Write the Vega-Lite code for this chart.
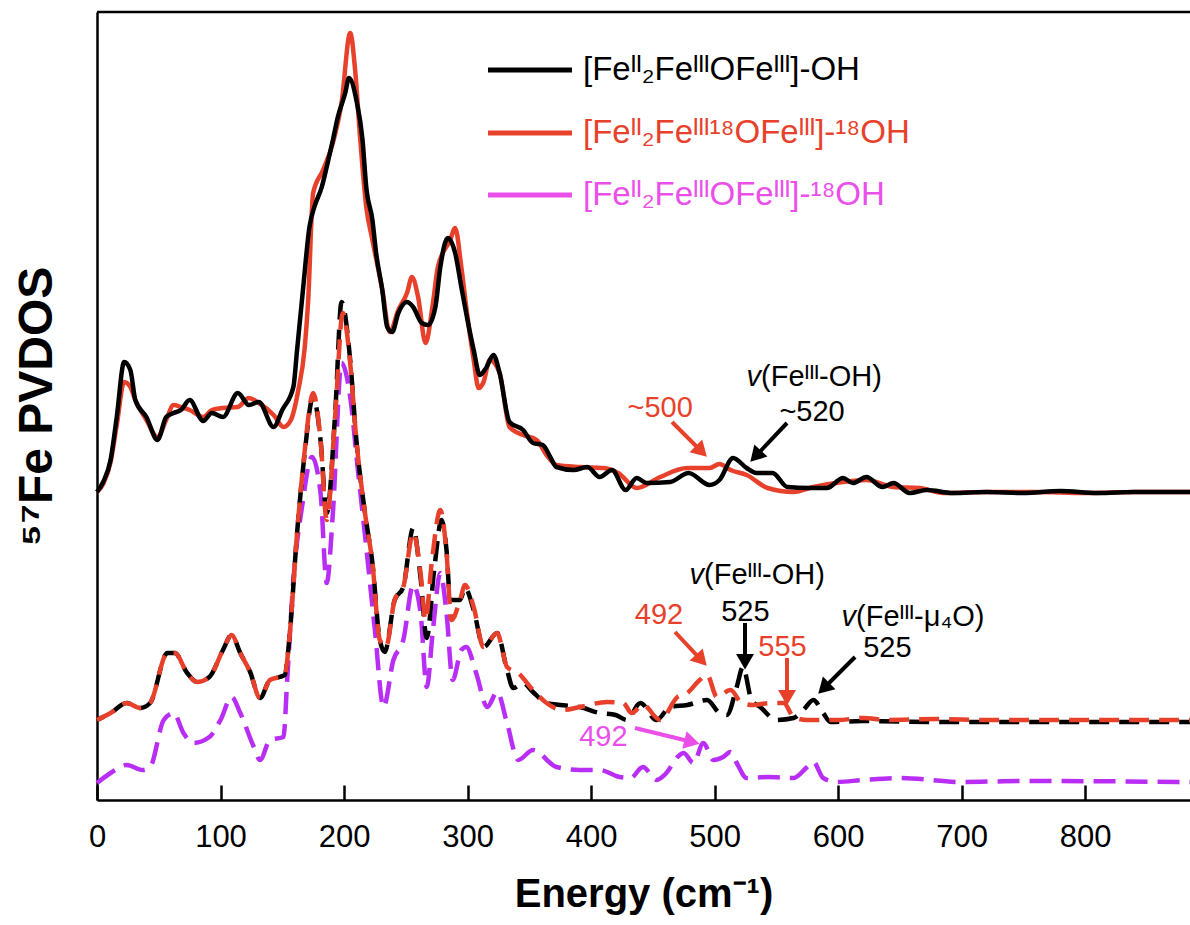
{
  "$schema": "https://vega.github.io/schema/vega-lite/v6.json",
  "width": 1093,
  "height": 788,
  "autosize": "none",
  "padding": {"left": 97, "top": 12, "right": 0, "bottom": 125},
  "background": "white",
  "config": {
    "view": {"stroke": null},
    "font": "Liberation Sans",
    "axis": {"grid": false}
  },
  "datasets": {
    "exp_oh": [
      {"e":0,"v":308},{"e":5,"v":318},{"e":11,"v":340},{"e":16,"v":383},{"e":22,"v":438},{"e":27,"v":430},{"e":31,"v":400},{"e":40,"v":383},{"e":49,"v":360},{"e":56,"v":383},{"e":62,"v":387},{"e":68,"v":390},{"e":75,"v":400},{"e":86,"v":379},{"e":93,"v":387},{"e":102,"v":383},{"e":114,"v":407},{"e":123,"v":395},{"e":131,"v":398},{"e":143,"v":373},{"e":150,"v":390},{"e":159,"v":413},{"e":162,"v":450},{"e":167,"v":513},{"e":172,"v":573},{"e":176,"v":593},{"e":182,"v":613},{"e":186,"v":633},{"e":191,"v":660},{"e":195,"v":683},{"e":201,"v":707},{"e":204,"v":722},{"e":210,"v":700},{"e":215,"v":660},{"e":218,"v":613},{"e":223,"v":580},{"e":226,"v":547},{"e":231,"v":510},{"e":235,"v":473},{"e":239,"v":468},{"e":244,"v":487},{"e":251,"v":498},{"e":256,"v":493},{"e":263,"v":477},{"e":268,"v":475},{"e":274,"v":493},{"e":278,"v":533},{"e":284,"v":562},{"e":290,"v":547},{"e":295,"v":513},{"e":300,"v":480},{"e":305,"v":450},{"e":310,"v":425},{"e":315,"v":432},{"e":321,"v":445},{"e":326,"v":427},{"e":334,"v":378},{"e":345,"v":370},{"e":353,"v":357},{"e":361,"v":355},{"e":367,"v":343},{"e":372,"v":333},{"e":386,"v":330},{"e":397,"v":333},{"e":407,"v":323},{"e":417,"v":330},{"e":428,"v":310},{"e":437,"v":322},{"e":445,"v":317},{"e":464,"v":318},{"e":479,"v":327},{"e":496,"v":315},{"e":504,"v":320},{"e":515,"v":342},{"e":526,"v":332},{"e":534,"v":327},{"e":547,"v":327},{"e":559,"v":313},{"e":577,"v":312},{"e":591,"v":312},{"e":604,"v":322},{"e":612,"v":317},{"e":623,"v":323},{"e":636,"v":313},{"e":645,"v":317},{"e":658,"v":307},{"e":672,"v":310},{"e":693,"v":307},{"e":720,"v":308},{"e":750,"v":307},{"e":780,"v":309},{"e":810,"v":307},{"e":840,"v":308},{"e":885,"v":308}
    ],
    "exp_18o": [
      {"e":0,"v":308},{"e":5,"v":316},{"e":11,"v":338},{"e":16,"v":375},{"e":22,"v":418},{"e":27,"v":413},{"e":31,"v":400},{"e":40,"v":380},{"e":49,"v":363},{"e":56,"v":380},{"e":62,"v":395},{"e":68,"v":393},{"e":75,"v":390},{"e":86,"v":383},{"e":93,"v":390},{"e":102,"v":392},{"e":114,"v":393},{"e":123,"v":402},{"e":131,"v":397},{"e":143,"v":385},{"e":151,"v":373},{"e":157,"v":380},{"e":163,"v":410},{"e":168,"v":450},{"e":171,"v":500},{"e":175,"v":607},{"e":183,"v":630},{"e":191,"v":657},{"e":198,"v":697},{"e":205,"v":767},{"e":209,"v":730},{"e":213,"v":663},{"e":218,"v":593},{"e":223,"v":560},{"e":231,"v":510},{"e":237,"v":468},{"e":244,"v":490},{"e":251,"v":507},{"e":255,"v":523},{"e":260,"v":503},{"e":266,"v":457},{"e":272,"v":497},{"e":276,"v":533},{"e":286,"v":560},{"e":290,"v":572},{"e":295,"v":533},{"e":300,"v":483},{"e":305,"v":440},{"e":309,"v":412},{"e":313,"v":418},{"e":318,"v":440},{"e":326,"v":427},{"e":334,"v":373},{"e":345,"v":365},{"e":356,"v":360},{"e":364,"v":345},{"e":372,"v":335},{"e":391,"v":333},{"e":410,"v":332},{"e":422,"v":327},{"e":437,"v":312},{"e":456,"v":323},{"e":478,"v":332},{"e":496,"v":332},{"e":504,"v":336},{"e":513,"v":330},{"e":526,"v":325},{"e":543,"v":312},{"e":564,"v":308},{"e":580,"v":313},{"e":604,"v":318},{"e":623,"v":320},{"e":645,"v":313},{"e":666,"v":312},{"e":685,"v":307},{"e":720,"v":308},{"e":760,"v":308},{"e":800,"v":307},{"e":840,"v":308},{"e":885,"v":308}
    ],
    "calc_18o": [
      {"e":0,"v":80},{"e":11,"v":87},{"e":24,"v":97},{"e":35,"v":92},{"e":43,"v":97},{"e":57,"v":147},{"e":63,"v":147},{"e":73,"v":127},{"e":81,"v":118},{"e":91,"v":123},{"e":102,"v":150},{"e":109,"v":165},{"e":116,"v":147},{"e":124,"v":128},{"e":132,"v":102},{"e":140,"v":120},{"e":148,"v":123},{"e":152,"v":125},{"e":156,"v":165},{"e":162,"v":267},{"e":168,"v":347},{"e":175,"v":407},{"e":181,"v":360},{"e":186,"v":280},{"e":193,"v":387},{"e":199,"v":487},{"e":205,"v":437},{"e":210,"v":360},{"e":217,"v":287},{"e":223,"v":237},{"e":229,"v":160},{"e":234,"v":153},{"e":241,"v":200},{"e":248,"v":213},{"e":256,"v":267},{"e":262,"v":227},{"e":266,"v":180},{"e":271,"v":237},{"e":278,"v":290},{"e":283,"v":247},{"e":287,"v":180},{"e":294,"v":200},{"e":298,"v":215},{"e":305,"v":193},{"e":313,"v":153},{"e":324,"v":167},{"e":332,"v":133},{"e":341,"v":127},{"e":353,"v":110},{"e":364,"v":97},{"e":377,"v":90},{"e":391,"v":93},{"e":413,"v":98},{"e":426,"v":97},{"e":433,"v":87},{"e":442,"v":95},{"e":456,"v":80},{"e":470,"v":103},{"e":478,"v":107},{"e":488,"v":120},{"e":494,"v":125},{"e":502,"v":103},{"e":513,"v":110},{"e":522,"v":97},{"e":531,"v":95},{"e":545,"v":97},{"e":556,"v":97},{"e":564,"v":83},{"e":575,"v":80},{"e":600,"v":80},{"e":620,"v":82},{"e":640,"v":80},{"e":680,"v":81},{"e":720,"v":80},{"e":885,"v":80}
    ],
    "calc_oh": [
      {"e":0,"v":80},{"e":11,"v":87},{"e":24,"v":97},{"e":35,"v":92},{"e":43,"v":97},{"e":57,"v":147},{"e":63,"v":147},{"e":73,"v":127},{"e":81,"v":118},{"e":91,"v":123},{"e":102,"v":150},{"e":109,"v":165},{"e":116,"v":147},{"e":124,"v":128},{"e":132,"v":102},{"e":140,"v":120},{"e":148,"v":123},{"e":152,"v":125},{"e":156,"v":165},{"e":162,"v":267},{"e":168,"v":345},{"e":175,"v":403},{"e":181,"v":360},{"e":186,"v":287},{"e":193,"v":390},{"e":198,"v":498},{"e":205,"v":440},{"e":210,"v":360},{"e":217,"v":287},{"e":223,"v":237},{"e":229,"v":160},{"e":233,"v":148},{"e":241,"v":200},{"e":248,"v":213},{"e":256,"v":272},{"e":262,"v":222},{"e":267,"v":162},{"e":273,"v":230},{"e":279,"v":280},{"e":283,"v":250},{"e":286,"v":200},{"e":290,"v":200},{"e":294,"v":200},{"e":298,"v":212},{"e":305,"v":190},{"e":313,"v":153},{"e":324,"v":167},{"e":332,"v":130},{"e":337,"v":112},{"e":345,"v":117},{"e":353,"v":108},{"e":364,"v":97},{"e":375,"v":95},{"e":391,"v":93},{"e":407,"v":87},{"e":420,"v":85},{"e":429,"v":80},{"e":440,"v":97},{"e":453,"v":80},{"e":464,"v":93},{"e":478,"v":95},{"e":494,"v":100},{"e":504,"v":87},{"e":510,"v":85},{"e":518,"v":113},{"e":523,"v":133},{"e":530,"v":100},{"e":537,"v":93},{"e":550,"v":80},{"e":564,"v":82},{"e":572,"v":90},{"e":580,"v":100},{"e":588,"v":87},{"e":594,"v":78},{"e":620,"v":79},{"e":680,"v":78},{"e":720,"v":78},{"e":885,"v":78}
    ],
    "calc_oh18": [
      {"e":0,"v":17},{"e":11,"v":27},{"e":24,"v":35},{"e":37,"v":30},{"e":43,"v":33},{"e":54,"v":80},{"e":62,"v":87},{"e":70,"v":67},{"e":78,"v":57},{"e":91,"v":63},{"e":100,"v":80},{"e":109,"v":103},{"e":116,"v":87},{"e":127,"v":53},{"e":132,"v":40},{"e":140,"v":60},{"e":151,"v":63},{"e":154,"v":120},{"e":159,"v":220},{"e":166,"v":293},{"e":174,"v":343},{"e":181,"v":307},{"e":186,"v":217},{"e":191,"v":287},{"e":198,"v":437},{"e":205,"v":403},{"e":211,"v":333},{"e":218,"v":253},{"e":225,"v":170},{"e":232,"v":93},{"e":240,"v":140},{"e":248,"v":160},{"e":256,"v":215},{"e":262,"v":187},{"e":267,"v":113},{"e":272,"v":170},{"e":278,"v":227},{"e":283,"v":187},{"e":288,"v":120},{"e":295,"v":150},{"e":299,"v":153},{"e":307,"v":127},{"e":316,"v":93},{"e":324,"v":108},{"e":332,"v":77},{"e":341,"v":40},{"e":353,"v":50},{"e":372,"v":33},{"e":391,"v":30},{"e":407,"v":30},{"e":423,"v":23},{"e":432,"v":22},{"e":442,"v":33},{"e":453,"v":20},{"e":461,"v":27},{"e":470,"v":43},{"e":475,"v":47},{"e":483,"v":37},{"e":491,"v":57},{"e":499,"v":40},{"e":507,"v":43},{"e":513,"v":48},{"e":518,"v":37},{"e":526,"v":22},{"e":543,"v":23},{"e":564,"v":22},{"e":575,"v":33},{"e":580,"v":38},{"e":588,"v":22},{"e":599,"v":18},{"e":620,"v":20},{"e":650,"v":22},{"e":700,"v":18},{"e":750,"v":19},{"e":885,"v":18}
    ],
    "legend": [
      {"e":316.6,"e2":384.6,"v":730,"grp":"OH","t":"[Feᴵᴵ₂FeᴵᴵᴵOFeᴵᴵᴵ]-OH"},
      {"e":316.6,"e2":384.6,"v":667,"grp":"18O","t":"[Feᴵᴵ₂Feᴵᴵᴵ¹⁸OFeᴵᴵᴵ]-¹⁸OH"},
      {"e":316.6,"e2":384.6,"v":605,"grp":"OH18","t":"[Feᴵᴵ₂FeᴵᴵᴵOFeᴵᴵᴵ]-¹⁸OH"}
    ],
    "arrows": [
      {"e":465.6,"v":378,"e2":487.9,"v2":350.5,"ang":135,"grp":"18O"},
      {"e":558.7,"v":377,"e2":534.7,"v2":345.7,"ang":223,"grp":"OH"},
      {"e":524.7,"v":177,"e2":524.7,"v2":140.8,"ang":180,"grp":"OH"},
      {"e":468,"v":168,"e2":488,"v2":141.7,"ang":137,"grp":"18O"},
      {"e":558.7,"v":142,"e2":558.7,"v2":104.8,"ang":180,"grp":"18O"},
      {"e":613.8,"v":143,"e2":589.9,"v2":113.5,"ang":225,"grp":"OH"},
      {"e":435.6,"v":72,"e2":479.7,"v2":58.8,"ang":104,"grp":"OH18"}
    ],
    "labels": [
      {"e":456,"v":392,"t":"~500","grp":"18O","kind":"center"},
      {"e":579,"v":388,"t":"~520","grp":"OH","kind":"center"},
      {"e":537.7,"v":423,"t":"v","grp":"OH","kind":"vi"},
      {"e":537.7,"v":423,"t":"(Feᴵᴵᴵ-OH)","grp":"OH","kind":"rest"},
      {"e":491.5,"v":225,"t":"v","grp":"OH","kind":"vi"},
      {"e":491.5,"v":225,"t":"(Feᴵᴵᴵ-OH)","grp":"OH","kind":"rest"},
      {"e":525,"v":188,"t":"525","grp":"OH","kind":"center"},
      {"e":455,"v":185,"t":"492","grp":"18O","kind":"center"},
      {"e":555,"v":153,"t":"555","grp":"18O","kind":"center"},
      {"e":614.6,"v":183,"t":"v","grp":"OH","kind":"vi"},
      {"e":614.6,"v":183,"t":"(Feᴵᴵᴵ-μ₄O)","grp":"OH","kind":"rest"},
      {"e":640,"v":152,"t":"525","grp":"OH","kind":"center"},
      {"e":410,"v":63,"t":"492","grp":"OH18","kind":"center"}
    ],
    "border": [{"v":788}]
  },
  "layer": [
    {
      "data": {"name": "calc_oh18"},
      "mark": {"type": "line", "color": "#b92ef5", "strokeWidth": 4.5, "strokeDash": [22, 10], "interpolate": "monotone"},
      "encoding": {
        "x": {"field": "e", "type": "quantitative", "scale": {"domain": [0, 885], "nice": false, "zero": false},
          "axis": {"title": "Energy (cm⁻¹)", "values": [0,100,200,300,400,500,600,700,800], "tickSize": -15, "tickWidth": 2.5, "tickColor": "black", "domainColor": "black", "domainWidth": 2.5, "labelFontSize": 31, "labelColor": "black", "labelPadding": 37, "labelFont": "Liberation Sans", "titleFont": "Liberation Sans", "titleFontWeight": "bold", "titleFontSize": 40, "titleColor": "black", "titlePadding": 22, "grid": false, "labelFlush": false}},
        "y": {"field": "v", "type": "quantitative", "scale": {"domain": [0, 788], "nice": false, "zero": false},
          "axis": {"title": "⁵⁷Fe PVDOS", "ticks": false, "labels": false, "domainColor": "black", "domainWidth": 2.5, "titleFont": "Liberation Sans", "titleFontSize": 48, "titleFontWeight": "bold", "titleColor": "black", "titlePadding": 36, "grid": false}}
      }
    },
    {
      "data": {"name": "calc_oh"},
      "mark": {"type": "line", "color": "black", "strokeWidth": 4.5, "strokeDash": [20, 10], "strokeDashOffset": 12, "interpolate": "monotone"},
      "encoding": {
        "x": {"field": "e", "type": "quantitative", "scale": {"domain": [0, 885], "nice": false, "zero": false}},
        "y": {"field": "v", "type": "quantitative", "scale": {"domain": [0, 788], "nice": false, "zero": false}}
      }
    },
    {
      "data": {"name": "calc_18o"},
      "mark": {"type": "line", "color": "#e8412b", "strokeWidth": 4.5, "strokeDash": [20, 10], "interpolate": "monotone"},
      "encoding": {
        "x": {"field": "e", "type": "quantitative", "scale": {"domain": [0, 885], "nice": false, "zero": false}},
        "y": {"field": "v", "type": "quantitative", "scale": {"domain": [0, 788], "nice": false, "zero": false}}
      }
    },
    {
      "data": {"name": "exp_18o"},
      "mark": {"type": "line", "color": "#e8412b", "strokeWidth": 4.5, "interpolate": "monotone"},
      "encoding": {
        "x": {"field": "e", "type": "quantitative", "scale": {"domain": [0, 885], "nice": false, "zero": false}},
        "y": {"field": "v", "type": "quantitative", "scale": {"domain": [0, 788], "nice": false, "zero": false}}
      }
    },
    {
      "data": {"name": "exp_oh"},
      "mark": {"type": "line", "color": "black", "strokeWidth": 4.5, "interpolate": "monotone"},
      "encoding": {
        "x": {"field": "e", "type": "quantitative", "scale": {"domain": [0, 885], "nice": false, "zero": false}},
        "y": {"field": "v", "type": "quantitative", "scale": {"domain": [0, 788], "nice": false, "zero": false}}
      }
    },
    {
      "data": {"name": "border"},
      "mark": {"type": "rule", "color": "black", "strokeWidth": 2.5},
      "encoding": {
        "y": {"field": "v", "type": "quantitative", "scale": {"domain": [0, 788], "nice": false, "zero": false}}
      }
    },
    {
      "data": {"name": "legend"},
      "mark": {"type": "rule", "strokeWidth": 5},
      "encoding": {
        "x": {"field": "e", "type": "quantitative", "scale": {"domain": [0, 885], "nice": false, "zero": false}},
        "x2": {"field": "e2"},
        "y": {"field": "v", "type": "quantitative", "scale": {"domain": [0, 788], "nice": false, "zero": false}},
        "color": {"field": "grp", "type": "nominal", "scale": {"domain": ["OH", "18O", "OH18"], "range": ["#000000", "#e8412b", "#ea4fea"]}, "legend": null}
      }
    },
    {
      "data": {"name": "legend"},
      "mark": {"type": "text", "align": "left", "baseline": "middle", "fontSize": 33, "font": "Liberation Sans", "dx": 11},
      "encoding": {
        "x": {"field": "e2", "type": "quantitative", "scale": {"domain": [0, 885], "nice": false, "zero": false}},
        "y": {"field": "v", "type": "quantitative", "scale": {"domain": [0, 788], "nice": false, "zero": false}},
        "text": {"field": "t"},
        "color": {"field": "grp", "type": "nominal", "scale": {"domain": ["OH", "18O", "OH18"], "range": ["#000000", "#e8412b", "#ea4fea"]}, "legend": null}
      }
    },
    {
      "data": {"name": "arrows"},
      "mark": {"type": "rule", "strokeWidth": 4},
      "encoding": {
        "x": {"field": "e", "type": "quantitative", "scale": {"domain": [0, 885], "nice": false, "zero": false}},
        "x2": {"field": "e2"},
        "y": {"field": "v", "type": "quantitative", "scale": {"domain": [0, 788], "nice": false, "zero": false}},
        "y2": {"field": "v2"},
        "color": {"field": "grp", "type": "nominal", "scale": {"domain": ["OH", "18O", "OH18"], "range": ["#000000", "#e8412b", "#ea4fea"]}, "legend": null}
      }
    },
    {
      "data": {"name": "arrows"},
      "mark": {"type": "point", "shape": "triangle", "filled": true, "size": 320, "opacity": 1},
      "encoding": {
        "x": {"field": "e2", "type": "quantitative", "scale": {"domain": [0, 885], "nice": false, "zero": false}},
        "y": {"field": "v2", "type": "quantitative", "scale": {"domain": [0, 788], "nice": false, "zero": false}},
        "angle": {"field": "ang", "type": "quantitative", "scale": null},
        "color": {"field": "grp", "type": "nominal", "scale": {"domain": ["OH", "18O", "OH18"], "range": ["#000000", "#e8412b", "#ea4fea"]}, "legend": null}
      }
    },
    {
      "data": {"name": "labels"},
      "transform": [{"filter": "datum.kind === 'center'"}],
      "mark": {"type": "text", "align": "center", "baseline": "middle", "fontSize": 29, "font": "Liberation Sans"},
      "encoding": {
        "x": {"field": "e", "type": "quantitative", "scale": {"domain": [0, 885], "nice": false, "zero": false}},
        "y": {"field": "v", "type": "quantitative", "scale": {"domain": [0, 788], "nice": false, "zero": false}},
        "text": {"field": "t"},
        "color": {"field": "grp", "type": "nominal", "scale": {"domain": ["OH", "18O", "OH18"], "range": ["#000000", "#e8412b", "#ea4fea"]}, "legend": null}
      }
    },
    {
      "data": {"name": "labels"},
      "transform": [{"filter": "datum.kind === 'vi'"}],
      "mark": {"type": "text", "align": "right", "baseline": "middle", "fontSize": 29, "fontStyle": "italic", "font": "Liberation Sans"},
      "encoding": {
        "x": {"field": "e", "type": "quantitative", "scale": {"domain": [0, 885], "nice": false, "zero": false}},
        "y": {"field": "v", "type": "quantitative", "scale": {"domain": [0, 788], "nice": false, "zero": false}},
        "text": {"field": "t"},
        "color": {"field": "grp", "type": "nominal", "scale": {"domain": ["OH", "18O", "OH18"], "range": ["#000000", "#e8412b", "#ea4fea"]}, "legend": null}
      }
    },
    {
      "data": {"name": "labels"},
      "transform": [{"filter": "datum.kind === 'rest'"}],
      "mark": {"type": "text", "align": "left", "baseline": "middle", "fontSize": 29, "font": "Liberation Sans"},
      "encoding": {
        "x": {"field": "e", "type": "quantitative", "scale": {"domain": [0, 885], "nice": false, "zero": false}},
        "y": {"field": "v", "type": "quantitative", "scale": {"domain": [0, 788], "nice": false, "zero": false}},
        "text": {"field": "t"},
        "color": {"field": "grp", "type": "nominal", "scale": {"domain": ["OH", "18O", "OH18"], "range": ["#000000", "#e8412b", "#ea4fea"]}, "legend": null}
      }
    }
  ]
}
